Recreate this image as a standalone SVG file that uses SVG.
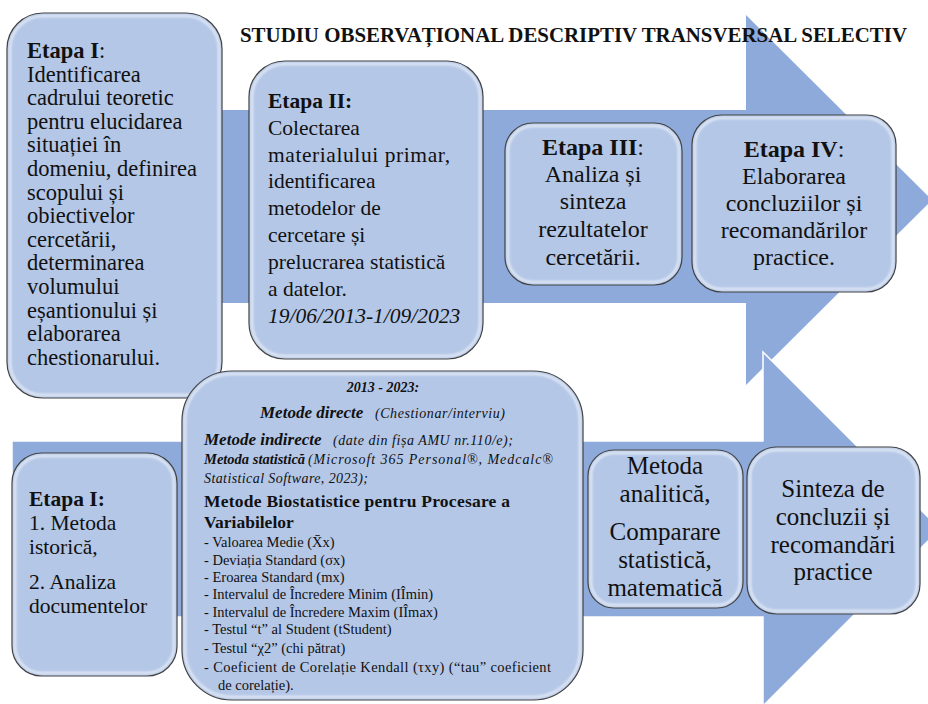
<svg xmlns="http://www.w3.org/2000/svg" width="928" height="704" viewBox="0 0 928 704">
<style>
text{font-family:"Liberation Serif","Times New Roman",serif;fill:#111}
.box{fill:#b4c7e7;stroke:#3c3c3c;stroke-width:1.2}
.glow{fill:none;stroke:#ffffff;stroke-opacity:.6;stroke-width:2.5}
.arrow{fill:#8eaadb}
.b{font-weight:bold}
.i{font-style:italic}
.bi{font-weight:bold;font-style:italic}
.t22{font-size:22.5px}
.t21{font-size:21.5px}
.t24{font-size:24px}
.t25{font-size:25px}
.li{font-size:14.5px}
.mid{text-anchor:middle}
</style>
<defs>
<filter id="soft" x="-5%" y="-5%" width="110%" height="110%"><feGaussianBlur stdDeviation="0.8"/></filter>
</defs>
<g id="connectors">
<polygon class="arrow" points="15,110 746,110 746,15 932,200 746,385 746,303 15,303"/>
<polygon class="arrow" points="12,441 763,441 763,352 940,529 763,706 763,617 12,617" stroke="#ffffff" stroke-width="1.5"/>
</g>
<g id="title">
<text x="240" y="42" class="b" font-size="20" textLength="667" lengthAdjust="spacingAndGlyphs">STUDIU OBSERVAȚIONAL DESCRIPTIV TRANSVERSAL SELECTIV</text>
</g>
<g id="etapa1-top">
<rect class="box" x="7" y="13" width="215" height="385" rx="36"/>
<rect class="glow" x="10" y="16" width="209" height="379" rx="33" filter="url(#soft)"/>
<text class="t22" x="27" y="58"><tspan class="b">Etapa I</tspan>:</text>
<text class="t22" x="27" y="82">Identificarea</text>
<text class="t22" x="27" y="105">cadrului teoretic</text>
<text class="t22" x="27" y="129">pentru elucidarea</text>
<text class="t22" x="27" y="152">situației în</text>
<text class="t22" x="27" y="176">domeniu, definirea</text>
<text class="t22" x="27" y="200">scopului și</text>
<text class="t22" x="27" y="223">obiectivelor</text>
<text class="t22" x="27" y="247">cercetării,</text>
<text class="t22" x="27" y="270">determinarea</text>
<text class="t22" x="27" y="294">volumului</text>
<text class="t22" x="27" y="318">eșantionului și</text>
<text class="t22" x="27" y="341">elaborarea</text>
<text class="t22" x="27" y="365">chestionarului.</text>
</g>
<g id="etapa2-top">
<rect class="box" x="249" y="61" width="234" height="298" rx="36"/>
<rect class="glow" x="252" y="64" width="228" height="292" rx="33" filter="url(#soft)"/>
<text class="t21 b" x="268" y="108">Etapa II:</text>
<text class="t21" x="268" y="135">Colectarea</text>
<text class="t21" x="268" y="162" textLength="182">materialului primar,</text>
<text class="t21" x="268" y="188">identificarea</text>
<text class="t21" x="268" y="215">metodelor de</text>
<text class="t21" x="268" y="242">cercetare și</text>
<text class="t21" x="268" y="269">prelucrarea statistică</text>
<text class="t21" x="268" y="296">a datelor.</text>
<text class="t21 i" x="268" y="323">19/06/2013-1/09/2023</text>
</g>
<g id="etapa3-top">
<rect class="box" x="505" y="123" width="177" height="162" rx="28"/>
<rect class="glow" x="508" y="126" width="171" height="156" rx="25" filter="url(#soft)"/>
<text class="t24 mid" x="593" y="155"><tspan class="b">Etapa III</tspan>:</text>
<text class="t24 mid" x="593" y="182">Analiza și</text>
<text class="t24 mid" x="593" y="209">sinteza</text>
<text class="t24 mid" x="593" y="237">rezultatelor</text>
<text class="t24 mid" x="593" y="265">cercetării.</text>
</g>
<g id="etapa4-top">
<rect class="box" x="692" y="115" width="204" height="177" rx="30"/>
<rect class="glow" x="695" y="118" width="198" height="171" rx="27" filter="url(#soft)"/>
<text class="t24 mid" x="794" y="157"><tspan class="b">Etapa IV</tspan>:</text>
<text class="t24 mid" x="794" y="184">Elaborarea</text>
<text class="t24 mid" x="794" y="211">concluziilor și</text>
<text class="t24 mid" x="794" y="238">recomandărilor</text>
<text class="t24 mid" x="794" y="265">practice.</text>
</g>
<g id="etapa1-bottom">
<rect class="box" x="12" y="453" width="165" height="223" rx="30"/>
<rect class="glow" x="15" y="456" width="159" height="217" rx="27" filter="url(#soft)"/>
<text class="b" font-size="21.5" x="29" y="506">Etapa I:</text>
<text font-size="21.5" x="29" y="530">1. Metoda</text>
<text font-size="21.5" x="29" y="554">istorică,</text>
<text font-size="21.5" x="29" y="589">2. Analiza</text>
<text font-size="21.5" x="29" y="613">documentelor</text>
</g>
<g id="metode">
<rect class="box" x="182" y="371" width="401" height="329" rx="50"/>
<rect class="glow" x="185" y="374" width="395" height="323" rx="47" filter="url(#soft)"/>
<text class="bi mid" font-size="14" x="383" y="392">2013 - 2023:</text>
<text class="bi" font-size="17" x="260" y="418">Metode directe</text>
<text class="i" font-size="14" x="375" y="418" textLength="130">(Chestionar/interviu)</text>
<text class="bi" font-size="17" x="204" y="445">Metode indirecte</text>
<text class="i" font-size="14" x="333" y="445" textLength="180">(date din fișa AMU nr.110/e);</text>
<text class="bi" font-size="14.5" x="204" y="464">Metoda statistică</text>
<text class="i" font-size="14" x="308" y="464" textLength="245">(Microsoft 365 Personal®, Medcalc®</text>
<text class="i" font-size="14" x="204" y="483" textLength="164">Statistical Software, 2023);</text>
<text class="b" font-size="17.5" x="204" y="507" textLength="306">Metode Biostatistice pentru Procesare a</text>
<text class="b" font-size="17.5" x="204" y="528">Variabilelor</text>
<text class="li" x="204" y="547">- Valoarea Medie (X̄x)</text>
<text class="li" x="204" y="565">- Deviația Standard (σx)</text>
<text class="li" x="204" y="582">- Eroarea Standard (mx)</text>
<text class="li" x="204" y="599">- Intervalul de Încredere Minim (IÎmin)</text>
<text class="li" x="204" y="617">- Intervalul de Încredere Maxim (IÎmax)</text>
<text class="li" x="204" y="634">- Testul “t” al Student (tStudent)</text>
<text class="li" x="204" y="653">- Testul “χ2” (chi pătrat)</text>
<text class="li" x="204" y="672" textLength="347">- Coeficient de Corelație Kendall (τxy) (“tau” coeficient</text>
<text class="li" x="218" y="690">de corelație).</text>
</g>
<g id="analiza">
<rect class="box" x="588" y="450" width="155" height="158" rx="26"/>
<rect class="glow" x="591" y="453" width="149" height="152" rx="23" filter="url(#soft)"/>
<text class="t25 mid" x="665" y="474">Metoda</text>
<text class="t25 mid" x="665" y="502">analitică,</text>
<text class="t25 mid" x="665" y="540">Comparare</text>
<text class="t25 mid" x="665" y="568">statistică,</text>
<text class="t25 mid" x="665" y="596">matematică</text>
</g>
<g id="sinteza">
<rect class="box" x="747" y="447" width="173" height="167" rx="30"/>
<rect class="glow" x="750" y="450" width="167" height="161" rx="27" filter="url(#soft)"/>
<text class="t25 mid" x="833" y="497">Sinteza de</text>
<text class="t25 mid" x="833" y="525">concluzii și</text>
<text class="t25 mid" x="833" y="553">recomandări</text>
<text class="t25 mid" x="833" y="580">practice</text>
</g>
</svg>
